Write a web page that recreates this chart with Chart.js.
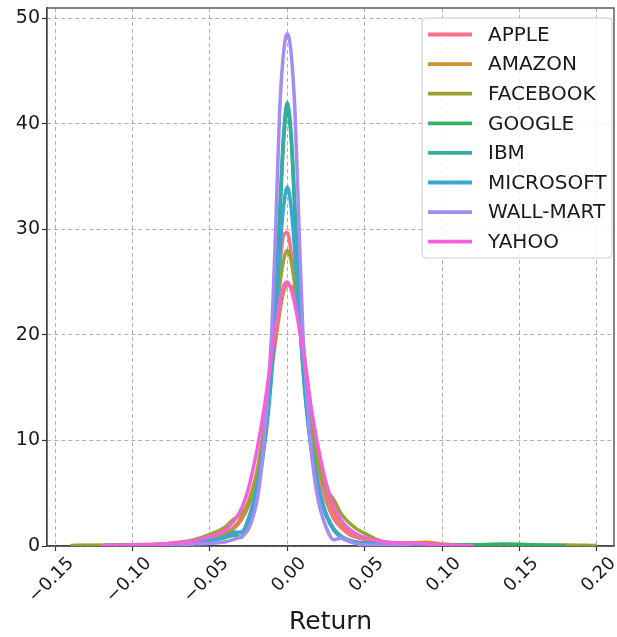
<!DOCTYPE html>
<html>
<head>
<meta charset="utf-8">
<title>Return KDE</title>
<script src="https://cdn.jsdelivr.net/npm/chart.js@4.4.1/dist/chart.umd.min.js"></script>
<style>
  html, body { margin: 0; padding: 0; background: #ffffff; }
  #wrap { width: 617px; height: 637px; position: relative; }
</style>
</head>
<body>
<div id="wrap"><canvas id="kdeChart"></canvas></div>
<script>
// Return grid (x) shared by every density curve
const returnGrid = [
  -0.14, -0.12, -0.10, -0.08, -0.07, -0.06, -0.05, -0.04, -0.035, -0.03, -0.025,
  -0.02, -0.0175, -0.015, -0.0125, -0.01, -0.0075, -0.005, -0.0025, 0,
  0.0025, 0.005, 0.0075, 0.01, 0.0125, 0.015, 0.0175, 0.02, 0.025, 0.03, 0.035,
  0.04, 0.045, 0.05, 0.06, 0.07, 0.08, 0.09, 0.10, 0.12, 0.14, 0.16, 0.18, 0.20
];

const stockNames = ['APPLE', 'AMAZON', 'FACEBOOK', 'GOOGLE', 'IBM', 'MICROSOFT', 'WALL-MART', 'YAHOO'];
const stockColors = ['#f77189', '#ce9032', '#97a431', '#32b166', '#36ada4', '#39a7d0', '#a48cf4', '#f561dd'];

// Density values (null = curve not drawn there)
const appleDensity = [
  null, 0.02, 0.08, 0.2, 0.3, 0.4, 0.6, 1.1, 1.6, 2.4, 3.8,
  6.3, 8.3, 11, 14.3, 18, 22.3, 26.2, 29.4, 29.7,
  27.8, 25, 22, 18.8, 15.5, 12.4, 9.6, 7.3, 4.3, 2.6, 1.7,
  1.1, 0.8, 0.6, 0.35, 0.25, 0.18, 0.15, 0.1, 0.02, null, null, null, null
];
const amazonDensity = [
  0.03, 0.05, 0.08, 0.15, 0.25, 0.4, 0.7, 1.2, 1.7, 2.6, 4.2,
  6.8, 8.8, 11.1, 13.8, 16.8, 19.5, 22, 24, 24.7,
  24.6, 23.6, 21.6, 19.2, 16.3, 13.4, 10.8, 8.6, 5.3, 3.3, 2.1,
  1.4, 1.0, 0.7, 0.4, 0.3, 0.3, 0.35, 0.2, 0.05, 0.02, null, null, null
];
const facebookDensity = [
  0.05, 0.08, 0.12, 0.2, 0.35, 0.6, 1.1, 1.8, 2.5, 3.0, 4.0,
  6.2, 8, 10.5, 13.5, 17, 21, 24.5, 27, 28,
  27, 24.5, 21.5, 19, 16, 12.5, 9.8, 7.5, 5.4, 4.4, 3.0,
  2.2, 1.6, 1.2, 0.5, 0.25, 0.15, 0.15, 0.1, 0.05, 0.08, 0.05, 0.1, 0.05
];
const googleDensity = [
  null, 0.03, 0.08, 0.12, 0.15, 0.25, 0.5, 0.8, 1.0, 0.9, 2.6,
  5.0, 6.8, 9.2, 12.3, 16.5, 22.5, 30.5, 38, 41.5,
  38.5, 31, 23, 17, 12.8, 9.6, 7.2, 5.4, 3.0, 1.6, 0.9,
  0.55, 0.35, 0.25, 0.15, 0.1, 0.08, 0.08, 0.1, 0.12, 0.18, 0.12, 0.05, null
];
const ibmDensity = [
  null, 0.03, 0.06, 0.1, 0.15, 0.25, 0.45, 0.9, 1.1, 0.8, 2.2,
  5.2, 7.5, 10.2, 13.5, 17.5, 23.5, 31.5, 38.8, 42,
  39, 32, 24, 18, 13.5, 10.3, 7.8, 5.8, 3.1, 1.6, 0.8,
  0.45, 0.3, 0.2, 0.12, 0.08, 0.05, 0.03, 0.02, null, null, null, null, null
];
const microsoftDensity = [
  null, 0.03, 0.06, 0.12, 0.2, 0.3, 0.5, 0.9, 1.3, 1.3, 2.6,
  5.3, 7.3, 9.8, 13, 17, 22, 27.5, 32, 34,
  32, 27.5, 22, 17, 13, 9.8, 7.3, 5.4, 2.9, 1.5, 0.8,
  0.5, 0.35, 0.3, 0.15, 0.1, 0.06, 0.04, 0.02, null, null, null, null, null
];
const walmartDensity = [
  null, null, 0.04, 0.08, 0.12, 0.2, 0.25, 0.4, 0.6, 0.9, 1.6,
  4.0, 6.3, 9.8, 14.8, 20.5, 30, 41, 46.6, 48.5,
  46.6, 41, 30.5, 20.5, 14.8, 9.8, 6.5, 4.3, 1.8, 0.6, 0.75,
  0.45, 0.2, 0.12, 0.08, 0.05, 0.02, null, null, null, null, null, null, null
];
const yahooDensity = [
  null, 0.05, 0.1, 0.2, 0.3, 0.5, 0.9, 1.5, 2.3, 3.4, 5.5,
  8.8, 10.8, 13, 15.5, 18.3, 20.8, 23, 24.6, 25,
  24.3, 22.8, 20.8, 18.5, 16, 13.5, 11.3, 9.3, 6, 3.8, 2.4,
  1.6, 1.1, 0.8, 0.45, 0.3, 0.25, 0.2, 0.12, 0.02, null, null, null, null
];

const allDensities = [appleDensity, amazonDensity, facebookDensity, googleDensity,
  ibmDensity, microsoftDensity, walmartDensity, yahooDensity];

const xTicks = [-0.15, -0.10, -0.05, 0.00, 0.05, 0.10, 0.15, 0.20];
const yTicks = [0, 10, 20, 30, 40, 50];

Chart.defaults.font.family = "'DejaVu Sans', sans-serif";

function fmtReturn(v) {
  const s = Number(v).toFixed(2);
  return s.charAt(0) === '-' ? '\u2212' + s.slice(1) : s;
}

// Top and right spines
const framePlugin = {
  id: 'frame',
  beforeDatasetsDraw(chart) {
    const a = chart.chartArea;
    const ctx = chart.ctx;
    ctx.save();
    ctx.strokeStyle = '#444444';
    ctx.lineWidth = 1.3;
    ctx.strokeRect(a.left, a.top, a.right - a.left, a.bottom - a.top);
    ctx.restore();
  }
};

// Legend box drawn inside the plot, upper right
const insideLegend = {
  id: 'insideLegend',
  afterDatasetsDraw(chart) {
    const ctx = chart.ctx;
    const bx = 422, by = 18, bw = 190, bh = 240, r = 4;
    ctx.save();
    ctx.beginPath();
    ctx.moveTo(bx + r, by);
    ctx.arcTo(bx + bw, by, bx + bw, by + bh, r);
    ctx.arcTo(bx + bw, by + bh, bx, by + bh, r);
    ctx.arcTo(bx, by + bh, bx, by, r);
    ctx.arcTo(bx, by, bx + bw, by, r);
    ctx.closePath();
    ctx.fillStyle = 'rgba(255,255,255,0.85)';
    ctx.fill();
    ctx.strokeStyle = '#cccccc';
    ctx.lineWidth = 1;
    ctx.stroke();

    ctx.font = "20px 'DejaVu Sans', sans-serif";
    ctx.textBaseline = 'middle';
    ctx.textAlign = 'left';
    chart.data.datasets.forEach(function(ds, i) {
      const y = 34.5 + i * 29.6;
      ctx.strokeStyle = ds.borderColor;
      ctx.lineWidth = 3.8;
      ctx.beginPath();
      ctx.moveTo(428, y);
      ctx.lineTo(472, y);
      ctx.stroke();
      ctx.fillStyle = '#1a1a1a';
      ctx.fillText(ds.label, 488, y + 1);
    });
    ctx.restore();
  }
};

const datasets = stockNames.map(function(name, i) {
  return {
    label: name,
    data: returnGrid.map(function(x, j) { return { x: x, y: allDensities[i][j] }; }),
    borderColor: stockColors[i],
    backgroundColor: stockColors[i],
    borderWidth: 3.5,
    pointRadius: 0,
    fill: false,
    cubicInterpolationMode: 'monotone',
    spanGaps: false,
    order: stockNames.length - i
  };
});

new Chart(document.getElementById('kdeChart'), {
  type: 'line',
  data: { datasets: datasets },
  options: {
    responsive: true,
    maintainAspectRatio: false,
    animation: false,
    layout: { padding: { top: 8, right: 3, left: 0, bottom: 0 } },
    plugins: {
      legend: { display: false },
      tooltip: { enabled: false }
    },
    scales: {
      x: {
        type: 'linear',
        min: -0.1552,
        max: 0.211,
        afterBuildTicks: function(s) { s.ticks = xTicks.map(function(v) { return { value: v }; }); },
        afterFit: function(s) { s.height = 91; s.paddingLeft = 0; s.paddingRight = 0; },
        ticks: {
          autoSkip: false,
          minRotation: 45,
          maxRotation: 45,
          labelOffset: 16,
          padding: 2,
          color: '#1a1a1a',
          font: { size: 18 },
          callback: function(v) { return fmtReturn(v); }
        },
        grid: { color: '#b0b0b0', lineWidth: 1, tickLength: 5, tickColor: '#333333', tickWidth: 1.2 },
        border: { color: '#444444', width: 1.3, dash: [4, 3] },
        title: {
          display: true,
          text: 'Return',
          color: '#1a1a1a',
          font: { size: 25 },
          padding: { top: 0, bottom: 0 }
        }
      },
      y: {
        min: 0,
        max: 50.95,
        afterBuildTicks: function(s) { s.ticks = yTicks.map(function(v) { return { value: v }; }); },
        afterFit: function(s) { s.width = 47; s.paddingTop = 0; s.paddingBottom = 0; },
        ticks: {
          padding: 2,
          color: '#1a1a1a',
          font: { size: 19 }
        },
        grid: { color: '#b0b0b0', lineWidth: 1, tickLength: 5, tickColor: '#333333', tickWidth: 1.2 },
        border: { color: '#444444', width: 1.3, dash: [4, 3] }
      }
    }
  },
  plugins: [framePlugin, insideLegend]
});
</script>
</body>
</html>
